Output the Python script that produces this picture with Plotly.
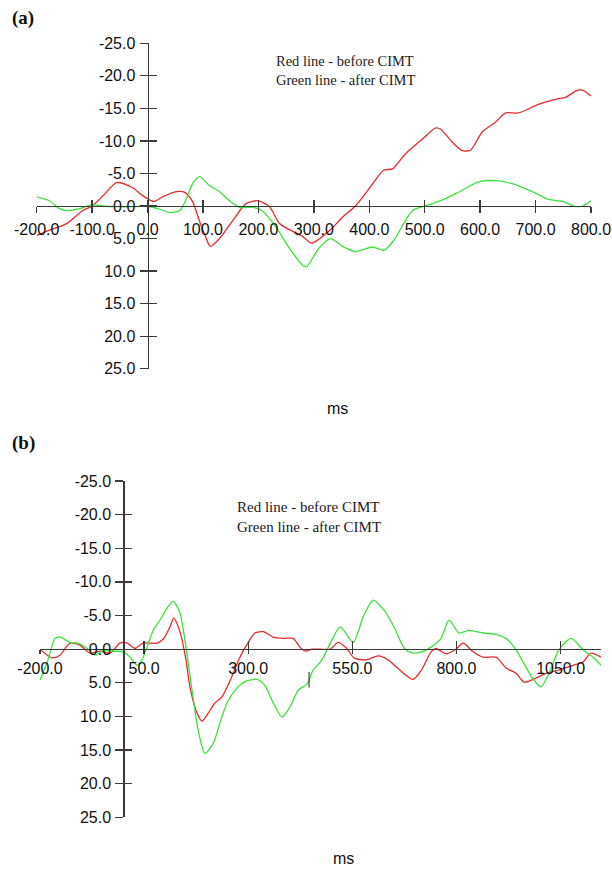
import plotly.graph_objects as go

# ---------------- data ----------------
# Panel (a)
a_red_ms = [-200, -177, -146, -117, -100, -80, -56, -27, -9, 11, 27, 52, 67, 81, 94, 106, 113, 130, 154, 178,
            200, 220, 238, 262, 280, 296, 329, 352, 375, 399, 426, 442, 465, 496, 520, 529, 550, 568, 583, 604,
            628, 646, 669, 705, 741, 754, 776, 785, 800]
a_red_uv = [4.5, 3.7, 2.7, 0.7, 0.0, -1.6, -3.6, -2.8, -1.6, -0.7, -1.4, -2.2, -2.1, -0.7, 2.4, 5.0, 6.2, 5.0, 2.2, -0.4,
            -0.8, 0.1, 2.7, 3.9, 4.7, 5.7, 3.7, 1.7, 0.0, -2.6, -5.5, -5.7, -8.0, -10.3, -12.0, -11.8, -9.8, -8.5, -8.6, -11.4,
            -12.9, -14.3, -14.3, -15.6, -16.5, -16.7, -17.8, -17.8, -16.9]

a_green_ms = [-200, -177, -159, -146, -122, -100, -81, -56, -27, -2, 22, 40, 58, 70, 81, 94, 112, 130, 148, 166,
              190, 208, 233, 256, 280, 287, 309, 330, 352, 375, 406, 426, 444, 460, 478, 500, 525, 556, 597, 628,
              659, 694, 723, 749, 768, 785, 800]
a_green_uv = [-1.4, -0.8, 0.4, 0.7, 0.4, -0.2, 0.0, 0.1, 0.1, 0.0, 0.5, 1.0, 0.7, -1.1, -3.4, -4.5, -3.1, -2.2, -0.8, 0.2,
              0.2, 0.8, 3.4, 6.5, 9.1, 9.3, 6.5, 5.0, 6.2, 7.0, 6.3, 6.8, 5.3, 3.0, 0.7, 0.0, -0.7, -1.9, -3.7, -3.9,
              -3.4, -2.2, -1.0, -0.7, 0.0, 0.0, -0.8]

# Panel (b)
b_red_ms = [-200, -171, -152, -128, -104, -80, -56, -32, -8, 9, 28, 47, 81, 96, 112, 121, 136, 150, 160, 177,
            189, 204, 220, 237, 257, 280, 300, 316, 336, 360, 384, 408, 424, 437, 453, 473, 497, 516, 535, 554,
            583, 612, 636, 662, 696, 716, 739, 751, 775, 797, 816, 840, 864, 895, 919, 943, 962, 984, 1015, 1046,
            1080, 1104, 1123, 1147]
b_red_uv = [0.0, 1.3, 0.9, -0.9, -0.6, 0.6, 0.3, 0.6, -0.9, -0.9, -0.1, -0.9, -0.9, -1.5, -3.3, -4.6, -2.6, 1.4, 5.6, 9.5,
            10.7, 9.5, 8.0, 7.1, 4.6, 1.2, -1.0, -2.4, -2.6, -1.8, -1.6, -1.6, -0.3, 0.3, 0.0, 0.0, 0.0, -1.0, -0.2, 1.3,
            1.6, 1.0, 1.6, 3.0, 4.5, 3.1, 0.4, -0.1, 0.7, 0.1, -0.9, 0.4, 1.2, 1.2, 2.8, 3.6, 4.9, 4.5, 3.6, 3.1,
            2.4, 1.9, 0.6, 1.2]

b_green_ms = [-200, -181, -164, -152, -128, -109, -87, -68, -49, -25, 0, 16, 33, 45, 57, 72, 88, 105, 120, 136,
              148, 165, 180, 196, 216, 232, 249, 273, 293, 321, 340, 360, 381, 400, 420, 441, 456, 477, 497, 521,
              552, 576, 600, 626, 650, 675, 695, 716, 739, 763, 782, 806, 830, 864, 895, 919, 943, 967, 986, 1003,
              1022, 1046, 1075, 1104, 1128, 1147]
b_green_uv = [4.6, 1.6, -1.6, -1.8, -1.0, -0.9, -0.1, 0.9, 0.2, 0.3, 0.4, 1.2, 2.4, 1.6, -0.3, -2.8, -4.3, -6.1, -7.1, -5.4,
              -1.3, 6.1, 12.1, 15.5, 14.0, 11.0, 8.0, 5.8, 4.8, 4.5, 5.4, 8.0, 10.1, 8.6, 6.1, 5.2, 3.1, 1.6, -0.9, -3.3,
              -1.0, -4.8, -7.3, -5.8, -3.3, -0.1, 0.6, 0.4, -0.3, -1.6, -4.3, -2.4, -2.8, -2.4, -2.2, -1.6, 0.1, 2.7, 4.6, 5.6,
              3.6, 0.1, -1.6, 0.1, 1.2, 2.4]

# small event tick on panel (b)
b_mark_ms = [446, 446]
b_mark_uv = [3.4, 5.7]

y_ticks = [-25, -20, -15, -10, -5, 0, 5, 10, 15, 20, 25]
a_x_ticks = [-200, -100, 0, 100, 200, 300, 400, 500, 600, 700, 800]
b_x_ticks = [-200, 50, 300, 550, 800, 1050]

a_x_range = [-200, 800]
b_x_range = [-200, 1147]
y_range = [25, -25]  # negative up

legend_lines = ["Red line - before CIMT", "Green line - after CIMT"]


def fmt(vals):
    return [f"{v:.1f}" for v in vals]   # plain hyphen minus, one decimal


# ---------------- layout geometry ----------------
W, H = 612, 870
RED = "#e52a2a"
GREEN = "#3de23d"
AXC = "#3a3a3a"
TICKFONT = dict(family="Liberation Sans, Arial, sans-serif", size=16, color="#111111")

a_xdom = [36.7 / W, 591 / W]
a_ydom = [1 - 368.7 / H, 1 - 43.3 / H]
b_xdom = [40 / W, 601 / W]
b_ydom = [1 - 817.3 / H, 1 - 481 / H]


def pos_of_zero(rng, dom):
    f = (0 - rng[0]) / (rng[1] - rng[0])
    return dom[0] + f * (dom[1] - dom[0])


fig = go.Figure()

def line(x, y, color, xa, ya):
    fig.add_trace(go.Scatter(x=x, y=y, mode="lines", xaxis=xa, yaxis=ya,
                             line=dict(color=color, width=1.3, shape="spline", smoothing=0.7),
                             hoverinfo="skip", showlegend=False))

line(a_red_ms, a_red_uv, RED, "x", "y")
line(a_green_ms, a_green_uv, GREEN, "x", "y")
line(b_red_ms, b_red_uv, RED, "x2", "y2")
line(b_green_ms, b_green_uv, GREEN, "x2", "y2")
fig.add_trace(go.Scatter(x=b_mark_ms, y=b_mark_uv, mode="lines", xaxis="x2", yaxis="y2",
                         line=dict(color="#444444", width=1.2), hoverinfo="skip", showlegend=False))
# empty traces to activate overlay axes (inner half of crossing ticks)
fig.add_trace(go.Scatter(x=[], y=[], xaxis="x3", yaxis="y3", showlegend=False))
fig.add_trace(go.Scatter(x=[], y=[], xaxis="x4", yaxis="y4", showlegend=False))

def xaxis_cfg(rng, dom, ydom, ticks, ticklen, standoff):
    return dict(range=rng, domain=dom, anchor="free", position=pos_of_zero(y_range, ydom),
                side="bottom", showline=True, linecolor=AXC, linewidth=1.3, automargin=False,
                tickmode="array", tickvals=ticks, ticktext=fmt(ticks), tickangle=0,
                ticks="outside", ticklen=ticklen, tickwidth=1.3, tickcolor=AXC,
                tickfont=TICKFONT, ticklabelstandoff=standoff,
                showgrid=False, zeroline=False, fixedrange=True)

def yaxis_cfg(dom, xrng, xdom, ticklen):
    return dict(range=y_range, domain=dom, anchor="free", position=pos_of_zero(xrng, xdom),
                side="left", showline=True, linecolor=AXC, linewidth=1.3, automargin=False,
                tickmode="array", tickvals=y_ticks, ticktext=fmt(y_ticks),
                ticks="outside", ticklen=ticklen, tickwidth=1.3, tickcolor=AXC,
                tickfont=TICKFONT, ticklabelstandoff=1,
                showgrid=False, zeroline=False, fixedrange=True)

def inner_x(base, rng, ydom, ticks, ticklen):
    return dict(overlaying=base, range=rng, anchor="free", position=pos_of_zero(y_range, ydom),
                side="bottom", showline=False, tickmode="array", tickvals=ticks, automargin=False,
                ticks="inside", ticklen=ticklen, tickwidth=1.3, tickcolor=AXC,
                showticklabels=False, showgrid=False, zeroline=False, fixedrange=True)

def inner_y(base, xrng, xdom, ticklen):
    return dict(overlaying=base, range=y_range, anchor="free", position=pos_of_zero(xrng, xdom),
                side="left", showline=False, tickmode="array", tickvals=y_ticks, automargin=False,
                ticks="inside", ticklen=ticklen, tickwidth=1.3, tickcolor=AXC,
                showticklabels=False, showgrid=False, zeroline=False, fixedrange=True)

fig.update_layout(
    width=W, height=H, margin=dict(l=0, r=0, t=0, b=0, pad=0, autoexpand=False),
    paper_bgcolor="white", plot_bgcolor="white", showlegend=False,
    xaxis=xaxis_cfg(a_x_range, a_xdom, a_ydom, a_x_ticks, 6, 2),
    yaxis=yaxis_cfg(a_ydom, a_x_range, a_xdom, 8),
    xaxis2=xaxis_cfg(b_x_range, b_xdom, b_ydom, b_x_ticks, 4, 0),
    yaxis2=yaxis_cfg(b_ydom, b_x_range, b_xdom, 8),
    xaxis3=inner_x("x", a_x_range, a_ydom, a_x_ticks, 6),
    yaxis3=inner_y("y", a_x_range, a_xdom, 8),
    xaxis4=inner_x("x2", b_x_range, b_ydom, b_x_ticks, 8),
    yaxis4=inner_y("y2", b_x_range, b_xdom, 8),
)

ann = []
serif = "Liberation Serif, Times New Roman, serif"
ann.append(dict(text="<b>(a)</b>", x=10 / W, y=1 - 18 / H, xref="paper", yref="paper",
                xanchor="left", yanchor="middle", showarrow=False,
                font=dict(family=serif, size=19, color="#111")))
ann.append(dict(text="<b>(b)</b>", x=10 / W, y=1 - 443 / H, xref="paper", yref="paper",
                xanchor="left", yanchor="middle", showarrow=False,
                font=dict(family=serif, size=19, color="#111")))
for i, t in enumerate(legend_lines):
    ann.append(dict(text=t, x=274 / W, y=1 - (61 + 19 * i) / H, xref="paper", yref="paper",
                    xanchor="left", yanchor="middle", showarrow=False,
                    font=dict(family=serif, size=14.5, color="#222")))
    ann.append(dict(text=t, x=235 / W, y=1 - (507 + 20 * i) / H, xref="paper", yref="paper",
                    xanchor="left", yanchor="middle", showarrow=False,
                    font=dict(family=serif, size=15, color="#222")))
ann.append(dict(text="ms", x=337 / W, y=1 - 408 / H, xref="paper", yref="paper",
                xanchor="center", yanchor="middle", showarrow=False, font=TICKFONT))
ann.append(dict(text="ms", x=343 / W, y=1 - 858 / H, xref="paper", yref="paper",
                xanchor="center", yanchor="middle", showarrow=False, font=TICKFONT))
fig.update_layout(annotations=ann)

fig.write_html("out.html", config={"displayModeBar": False, "staticPlot": True},
               post_script="document.body.style.margin='0px';document.body.style.overflow='hidden';")
